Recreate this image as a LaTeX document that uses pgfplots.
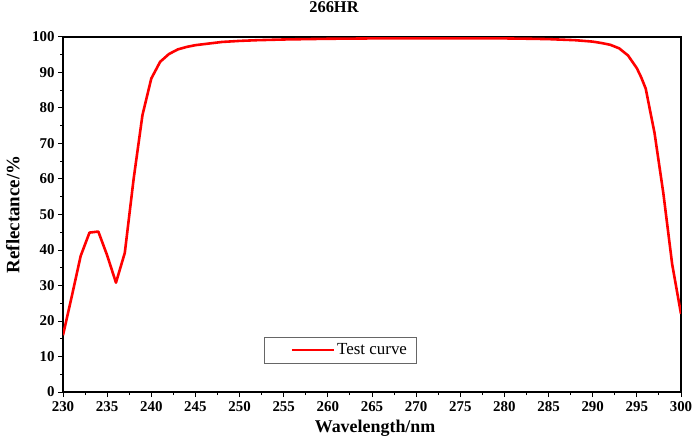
\documentclass[border=0pt]{standalone}
\usepackage{pgfplots}
\pgfplotsset{compat=1.18}
\usepackage{fontspec}
\setmainfont{Liberation Serif}
\begin{document}
\begin{tikzpicture}
\begin{axis}[
  at={(63bp,48bp)}, anchor=south west,
  scale only axis, width=618bp, height=355bp,
  xmin=230, xmax=300, ymin=0, ymax=100,
  xtick={230,235,...,300}, ytick={0,10,...,100},
  minor x tick num=1, minor y tick num=1,
  xtick pos=left, ytick pos=left,
  tick align=outside,
  major tick length=5bp, minor tick length=3bp,
  every tick/.style={black, line width=1pt},
  axis line style={line width=1.2pt},
  /pgf/number format/assume math mode=true,
  tick label style={font=\fontsize{15}{15}\selectfont\bfseries},
  xticklabel style={yshift=-1bp},
  title={266HR},
  title style={at={(axis description cs:0.4385,1.0676)}, anchor=center, font=\fontsize{16.5}{16.5}\selectfont\bfseries},
  xlabel={Wavelength/nm},
  xlabel style={at={(axis description cs:0.505,-0.1014)}, anchor=center, font=\fontsize{18}{18}\selectfont\bfseries},
  ylabel={Reflectance/\%},
  ylabel style={at={(axis description cs:-0.081,0.5)}, anchor=center, font=\fontsize{19}{19}\selectfont\bfseries},
  legend style={at={(axis cs:252.8,15.5)}, anchor=north west, draw=black!60, line width=0.6pt,
    font=\fontsize{17}{17}\selectfont, inner xsep=7bp, inner ysep=4.5bp},
  legend image code/.code={\path (0bp,0bp); \draw[#1] (19bp,0bp) -- (61bp,0bp);},
  legend cell align=left,
]
\addplot[red, line width=2.6pt, line join=round] coordinates {
(230,16) (231,27) (232,38.3) (233,44.9) (234,45.2) (235,38.5) (236,30.8) (237,39.2)
(238,60) (239,78) (240,88.3) (241,93) (242,95.2) (243,96.5) (244,97.2) (245,97.7)
(246,98.0) (247,98.3) (248,98.6) (250,98.9) (252,99.1) (255,99.3) (260,99.5)
(265,99.6) (270,99.6) (275,99.6) (280,99.6) (283,99.5) (285,99.4) (287,99.2)
(288,99.1) (289,98.9) (290,98.7) (291,98.3) (292,97.8) (293,96.8) (294,94.8)
(295,91.2) (295.5,88.6) (296,85.5) (297,73) (298,56) (299,36) (300,22)
};
\addlegendentry{Test curve}
\end{axis}
\pgfresetboundingbox
\path (0,0) rectangle (694bp,440bp);
\end{tikzpicture}
\end{document}
